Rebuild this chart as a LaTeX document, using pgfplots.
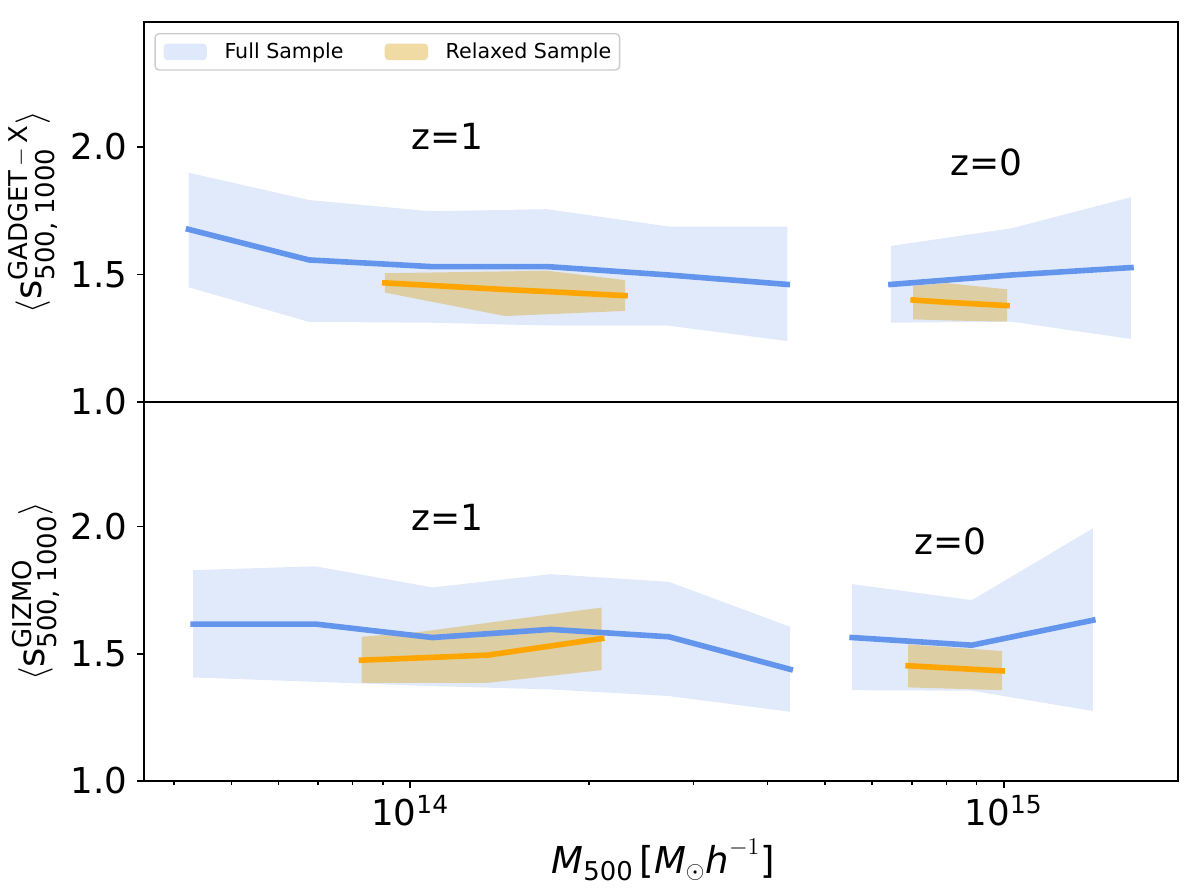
\documentclass[border=0pt]{standalone}
\usepackage{amsmath}
\usepackage{fontspec}
\setmainfont{DejaVu Sans}
\usepackage{pgfplots}
\pgfplotsset{compat=1.18}
\definecolor{cfblue}{RGB}{100,149,237}
\definecolor{mplorange}{RGB}{255,165,0}
\definecolor{goldenrod}{RGB}{218,165,32}
\tikzset{
  myfullband/.style={draw=none, fill=cfblue, fill opacity=0.2},
  myrelband/.style={draw=none, fill=goldenrod, fill opacity=0.4},
  myfullline/.style={cfblue, line width=2.8pt, line join=round, line cap=rect},
  myrelline/.style={mplorange, line width=2.8pt, line join=round, line cap=rect},
}
\pgfplotsset{legend image code/.code={\fill[#1] (0pt,-4.17pt) rectangle (21.7pt,4.17pt);}}
\begin{document}
\begin{tikzpicture}
% ---------------- bottom panel (GIZMO) ----------------
\begin{axis}[
  scale only axis, width=517pt, height=189.5pt, at={(0pt,0pt)},
  xmode=log, xmin=3.563e13, xmax=1.966e15,
  ymin=1, ymax=2.49,
  ytick={1,1.5,2}, yticklabels={1.0,1.5,2.0},
  tick align=outside, tick pos=left,
  major tick length=3.5pt, minor tick length=2pt,
  tick style={black, line width=0.7pt},
  axis line style={line width=0.7pt},
  ticklabel style={font=\fontsize{17.8}{20}\selectfont},
  yticklabel style={xshift=-1.5pt},
  label style={font=\fontsize{18.5}{22}\selectfont},
  xtick={1e14,1e15}, xticklabels={10\textsuperscript{14},10\textsuperscript{15}},
  minor xtick={4e13,5e13,6e13,7e13,8e13,9e13,2e14,3e14,4e14,5e14,6e14,7e14,8e14,9e14},
  xlabel={$\text{\itshape M}_{\text{500}}\,\text{[}\text{\itshape M}_{\odot}\text{\itshape h}^{-1}\text{]}$},
  xlabel style={at={(axis description cs:0.502,0)}, anchor=base, yshift=-46pt, font=\fontsize{18.5}{22}\selectfont},
  ylabel={$\langle \text{s}^{\text{GIZMO}}_{\text{500, 1000}}\rangle$},
  ylabel style={at={(axis description cs:-0.1044,0.5)}, anchor=center},
]
\addplot[myfullband] coordinates {
 (4.309e13,1.829) (6.928e13,1.844) (1.090e14,1.761) (1.726e14,1.813) (2.728e14,1.783) (4.367e14,1.606)
 (4.367e14,1.272) (2.728e14,1.334) (1.726e14,1.360) (1.090e14,1.373) (6.928e13,1.390) (4.309e13,1.407)} -- cycle;
\addplot[myfullband] coordinates {
 (5.553e14,1.774) (8.834e14,1.711) (1.412e15,1.993)
 (1.412e15,1.275) (8.834e14,1.355) (5.553e14,1.357)} -- cycle;
\addplot[myrelband] coordinates {
 (8.28e13,1.567) (1.038e14,1.586) (1.352e14,1.622) (2.102e14,1.682)
 (2.102e14,1.436) (1.352e14,1.386) (1.038e14,1.386) (8.28e13,1.386)} -- cycle;
\addplot[myrelband] coordinates {
 (6.899e14,1.537) (9.933e14,1.511)
 (9.933e14,1.357) (6.899e14,1.368)} -- cycle;
\addplot[myfullline] coordinates {(4.309e13,1.617) (6.928e13,1.617) (1.090e14,1.564) (1.726e14,1.596) (2.728e14,1.567) (4.367e14,1.439)};
\addplot[myfullline] coordinates {(5.553e14,1.564) (8.834e14,1.534) (1.412e15,1.632)};
\addplot[myrelline] coordinates {(8.28e13,1.475) (1.038e14,1.484) (1.352e14,1.495) (2.102e14,1.560)};
\addplot[myrelline] coordinates {(6.899e14,1.453) (9.933e14,1.433)};
\node[font=\fontsize{18}{21}\selectfont] at (axis cs:1.157e14,2.037) {z=1};
\node[font=\fontsize{18}{21}\selectfont] at (axis cs:8.12e14,1.943) {z=0};
\end{axis}
% ---------------- top panel (GADGET-X) ----------------
\begin{axis}[
  scale only axis, width=517pt, height=190pt, at={(0pt,189.5pt)},
  xmode=log, xmin=3.563e13, xmax=1.966e15,
  ymin=1, ymax=2.49,
  ytick={1,1.5,2}, yticklabels={1.0,1.5,2.0},
  tick align=outside, tick pos=left,
  major tick length=3.5pt, minor tick length=2pt,
  tick style={black, line width=0.7pt},
  axis line style={line width=0.7pt},
  ticklabel style={font=\fontsize{17.8}{20}\selectfont},
  yticklabel style={xshift=-1.5pt},
  label style={font=\fontsize{18.5}{22}\selectfont},
  xtick=\empty, minor xtick={},
  ylabel={$\langle \text{s}^{\text{GADGET\,$-$\,X}}_{\text{500, 1000}}\rangle$},
  ylabel style={at={(axis description cs:-0.1078,0.5)}, anchor=center},
  legend columns=2,
  legend style={at={(rel axis cs:0.00996,0.971)}, anchor=north west,
    draw=black!20, line width=0.7pt, rounded corners=2pt,
    font=\fontsize{10.3}{12}\selectfont,
    column sep=8.8pt, /tikz/every even column/.append style={column sep=20.6pt},
    inner xsep=4.2pt, inner ysep=4.4pt, nodes={inner sep=0pt, text depth=0.15em}},
  legend cell align=left,
]
\addplot[myfullband] coordinates {
 (4.233e13,1.899) (6.755e13,1.792) (1.082e14,1.748) (1.700e14,1.756) (2.726e14,1.688) (4.317e14,1.688)
 (4.317e14,1.239) (2.726e14,1.299) (1.700e14,1.300) (1.082e14,1.311) (6.755e13,1.314) (4.233e13,1.450)} -- cycle;
\addlegendentry{Full Sample}
\addplot[myfullband, forget plot] coordinates {
 (6.455e14,1.612) (1.030e15,1.681) (1.637e15,1.803)
 (1.637e15,1.247) (1.030e15,1.315) (6.455e14,1.311)} -- cycle;
\addplot[myrelband] coordinates {
 (9.066e13,1.505) (1.444e14,1.512) (1.700e14,1.515) (2.301e14,1.478)
 (2.301e14,1.357) (1.700e14,1.344) (1.444e14,1.337) (9.066e13,1.429)} -- cycle;
\addlegendentry{Relaxed Sample}
\addplot[myrelband, forget plot] coordinates {
 (7.036e14,1.456) (8.01e14,1.466) (1.0125e15,1.442)
 (1.0125e15,1.315) (8.01e14,1.320) (7.036e14,1.324)} -- cycle;
\addplot[myfullline, forget plot] coordinates {(4.233e13,1.677) (6.755e13,1.557) (1.082e14,1.531) (1.700e14,1.531) (2.726e14,1.498) (4.317e14,1.461)};
\addplot[myfullline, forget plot] coordinates {(6.455e14,1.461) (1.030e15,1.498) (1.637e15,1.527)};
\addplot[myrelline, forget plot] coordinates {(9.066e13,1.467) (1.444e14,1.441) (1.700e14,1.433) (2.301e14,1.417)};
\addplot[myrelline, forget plot] coordinates {(7.036e14,1.400) (8.01e14,1.391) (1.0125e15,1.378)};
\node[font=\fontsize{18}{21}\selectfont] at (axis cs:1.157e14,2.043) {z=1};
\node[font=\fontsize{18}{21}\selectfont] at (axis cs:9.35e14,1.941) {z=0};
\end{axis}
\pgfresetboundingbox
\path[use as bounding box] (-72pt,-54pt) rectangle (528pt,390.5pt);
\end{tikzpicture}
\end{document}
